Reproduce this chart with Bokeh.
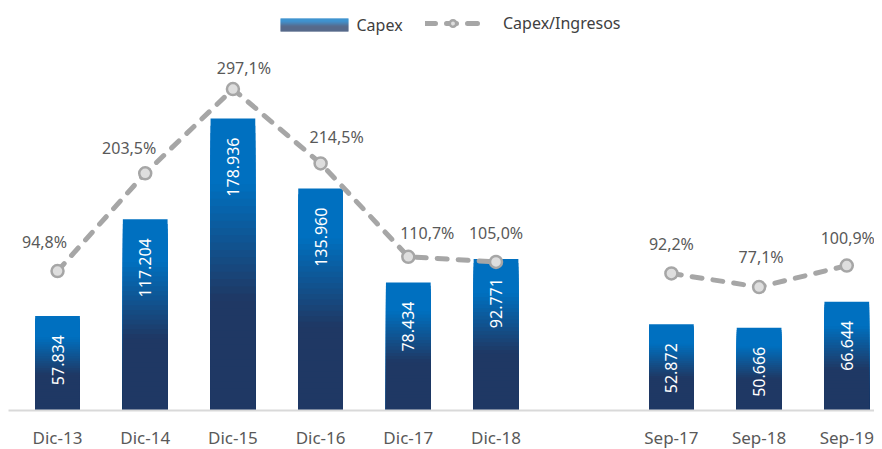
import numpy as np
from bokeh.plotting import figure
from bokeh.models import (Range1d, FixedTicker, ColumnDataSource, Legend, LegendItem,
                          BoxAnnotation, Label)
from bokeh.embed import file_html
from bokeh.resources import INLINE
from bokeh.core.properties import value

# ---- data ----
annual_cats = ["Dic-13", "Dic-14", "Dic-15", "Dic-16", "Dic-17", "Dic-18"]
annual_capex = [57834, 117204, 178936, 135960, 78434, 92771]
annual_ratio = [94.8, 203.5, 297.1, 214.5, 110.7, 105.0]
sep_cats = ["Sep-17", "Sep-18", "Sep-19"]
sep_capex = [52872, 50666, 66644]
sep_ratio = [92.2, 77.1, 100.9]

slots = annual_cats + [""] + sep_cats

# label placement tweaks (pixels) for the percentage labels, in category order
pct_dx = [-13, -16, 11, 16, 19, 0, 0, 2, 1]
pct_dy = [29, 25, 21, 26, 24, 29, 29, 30, 28]

FONT = "Noto Sans"
BLUE = (0, 112, 192)
NAVY = (31, 56, 100)


def grad(t):
    # t = 0 at top of bar, 1 at bottom
    a, b = 0.22, 0.62
    if t <= a:
        f = 0.0
    elif t >= b:
        f = 1.0
    else:
        f = (t - a) / (b - a)
    c = [round(BLUE[i] + (NAVY[i] - BLUE[i]) * f) for i in range(3)]
    return "#%02x%02x%02x" % tuple(c)


p = figure(frame_width=866, frame_height=402,
           x_range=Range1d(-0.559, 9.316), y_range=Range1d(0, 246324),
           output_backend="svg", toolbar_location=None, y_axis_location=None,
           min_border_left=8, min_border_right=0, min_border_top=8, min_border_bottom=0)
p.extra_y_ranges = {"pct": Range1d(-60.1, 386.6)}
p.outline_line_color = None
p.xgrid.visible = False
p.ygrid.visible = False
p.background_fill_color = "white"
p.border_fill_color = "white"

cats = annual_cats + sep_cats
capex = annual_capex + sep_capex
xs = [slots.index(c) for c in cats]

# gradient bars: overlapping slices from top colour down
N = 40
bx, btop, bcol = [], [], []
for k in range(N):
    t = (k + 0.5) / N
    for x, v in zip(xs, capex):
        bx.append(x)
        btop.append(v * (1 - k / N))
        bcol.append(grad(t))
p.vbar(x=bx, top=btop, bottom=0, width=0.51, fill_color=bcol, line_color=None)

# value labels inside bars
lab_src = ColumnDataSource(dict(x=xs, y=capex,
                                t=[f"{v:,}".replace(",", ".") for v in capex]))
p.text(x="x", y="y", text="t", source=lab_src, angle=np.pi / 2,
       text_align="right", text_baseline="middle", y_offset=19,
       text_color="white", text_font=value(FONT), text_font_size="16px")

# ratio lines
line_kw = dict(line_color="#a6a6a6", line_width=5, line_dash="10 11",
               line_cap="round", y_range_name="pct")
ax = [slots.index(c) for c in annual_cats]
sx = [slots.index(c) for c in sep_cats]
lr = p.line(ax, annual_ratio, **line_kw)
p.line(sx, sep_ratio, **line_kw)
sc_kw = dict(size=12, fill_color="#dedede", line_color="#a6a6a6", line_width=2.5,
             y_range_name="pct")
sr = p.scatter(ax, annual_ratio, **sc_kw)
p.scatter(sx, sep_ratio, **sc_kw)

ratios = annual_ratio + sep_ratio
pct_src = ColumnDataSource(dict(x=xs, y=ratios,
                                t=[f"{r:.1f}%".replace(".", ",") for r in ratios],
                                dx=pct_dx, dy=[-d for d in pct_dy]))
p.text(x="x", y="y", text="t", source=pct_src, y_range_name="pct",
       x_offset="dx", y_offset="dy",
       text_align="center", text_baseline="middle",
       text_color="#595959", text_font=value(FONT), text_font_size="16px")

# x axis
p.xaxis.ticker = FixedTicker(ticks=list(range(len(slots))))
p.xaxis.major_label_overrides = {i: s for i, s in enumerate(slots)}
p.xaxis.axis_line_color = "#d9d9d9"
p.xaxis.axis_line_width = 2
p.xaxis.major_tick_line_color = None
p.xaxis.minor_tick_line_color = None
p.xaxis.major_tick_out = 0
p.xaxis.major_label_standoff = 15
p.xaxis.major_label_text_font = FONT
p.xaxis.major_label_text_font_style = "normal"
p.xaxis.major_label_text_font_size = "17px"
p.xaxis.major_label_text_color = "#595959"

# legend: Capex (gradient box + label)
M = 13
for k in range(M):
    p.add_layout(BoxAnnotation(left=272, right=340, top=402 - 10 - k, bottom=402 - 11 - k,
                               left_units="screen", right_units="screen",
                               top_units="screen", bottom_units="screen",
                               fill_color=grad((k + 0.5) / M), fill_alpha=1,
                               line_color=None))
p.add_layout(Label(x=348, y=402 - 16, x_units="screen", y_units="screen", text="Capex",
                   text_font=FONT, text_font_size="16px", text_color="#404040",
                   text_baseline="middle"))

leg = Legend(items=[LegendItem(label="Capex/Ingresos", renderers=[lr, sr])],
             location=(417, 376), orientation="horizontal",
             glyph_width=55, glyph_height=16, label_height=16, padding=0, margin=0,
             spacing=0, label_standoff=23, border_line_color=None,
             background_fill_alpha=0, label_text_font=FONT,
             label_text_font_size="16px", label_text_color="#404040")
p.add_layout(leg)

open("out.html", "w").write(file_html(p, INLINE))
